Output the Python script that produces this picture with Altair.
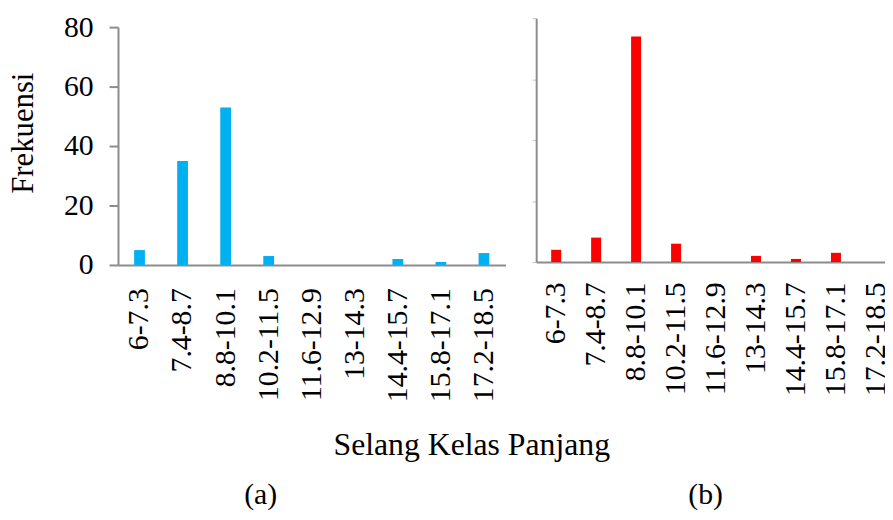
import altair as alt
import pandas as pd

# ---- data ----
classes = ["6-7.3", "7.4-8.7", "8.8-10.1", "10.2-11.5", "11.6-12.9",
           "13-14.3", "14.4-15.7", "15.8-17.1", "17.2-18.5"]
freq_a = [5, 35, 53, 3, 0, 0, 2, 1, 4]
freq_b = [4, 8, 74, 6, 0, 2, 1, 3, 0]
y_ticks = [0, 20, 40, 60, 80]

y_title = "Frekuensi"
x_title = "Selang Kelas Panjang"
panel_labels = ["(a)", "(b)"]

FONT = "'Liberation Serif', 'Times New Roman', Times, serif"
GRAY = "#8C8C8C"
BLUE = "#00B0F0"
RED = "#FF0000"

df_a = pd.DataFrame({"kelas": classes, "frek": freq_a})
df_b = pd.DataFrame({"kelas": classes, "frek": freq_b})
one = pd.DataFrame({"k": [0]})

bars_a = alt.Chart(df_a).mark_bar(color=BLUE).encode(
    x=alt.X("kelas:N", sort=classes,
            scale=alt.Scale(range=[0, 391], paddingInner=0.75, paddingOuter=0.375),
            axis=alt.Axis(title=None, orient="bottom", labelAngle=270, labelFont=FONT,
                          labelFontSize=30, labelColor="black", labelPadding=23,
                          ticks=False, domainColor=GRAY, domainWidth=2, offset=3,
                          labelOverlap=False)),
    y=alt.Y("frek:Q",
            scale=alt.Scale(domain=[0, 80], range=[249, 9], nice=False),
            axis=alt.Axis(title=None, orient="left", values=y_ticks, labelFont=FONT,
                          labelFontSize=30, labelColor="black", labelPadding=16,
                          tickSize=9, tickColor=GRAY, tickWidth=2,
                          domainColor=GRAY, domainWidth=2, grid=False,
                          labelOverlap=False)),
)

bars_b = alt.Chart(df_b).mark_bar(color=RED).encode(
    x=alt.X("kelas:N", sort=classes,
            scale=alt.Scale(range=[422, 785], paddingInner=0.75, paddingOuter=0.375),
            axis=alt.Axis(title=None, orient="bottom", labelAngle=270, labelFont=FONT,
                          labelFontSize=30, labelColor="black", labelPadding=20,
                          ticks=False, domainColor=GRAY, domainWidth=2, offset=0,
                          labelOverlap=False)),
    y=alt.Y("frek:Q",
            scale=alt.Scale(domain=[0, 80], range=[246, 0], nice=False),
            axis=alt.Axis(title=None, orient="left", values=y_ticks, labels=False,
                          tickSize=4, tickColor="#BFBFBF", tickWidth=1,
                          domainColor=GRAY, domainWidth=2, grid=False, offset=-422)),
)

txt_y = alt.Chart(one).mark_text(font=FONT, fontSize=31, color="black", angle=270,
                                 align="center", baseline="alphabetic").encode(
    x=alt.value(-86), y=alt.value(116), text=alt.value(y_title))

txt_x = alt.Chart(one).mark_text(font=FONT, fontSize=32, color="black",
                                 align="center", baseline="alphabetic").encode(
    x=alt.value(357), y=alt.value(441), text=alt.value(x_title))

txt_a = alt.Chart(one).mark_text(font=FONT, fontSize=30, color="black",
                                 align="center", baseline="alphabetic").encode(
    x=alt.value(144), y=alt.value(490), text=alt.value(panel_labels[0]))

txt_b = alt.Chart(one).mark_text(font=FONT, fontSize=30, color="black",
                                 align="center", baseline="alphabetic").encode(
    x=alt.value(593), y=alt.value(490), text=alt.value(panel_labels[1]))

chart = alt.layer(bars_a, bars_b, txt_y, txt_x, txt_a, txt_b).resolve_scale(
    x="independent", y="independent"
).properties(
    width=774, height=246,
    autosize=alt.AutoSizeParams(type="none"),
    padding={"left": 111, "top": 8, "right": 0, "bottom": 250},
).configure_view(stroke=None)

chart.save("out.html", embed_options={"renderer": "svg", "actions": False})
